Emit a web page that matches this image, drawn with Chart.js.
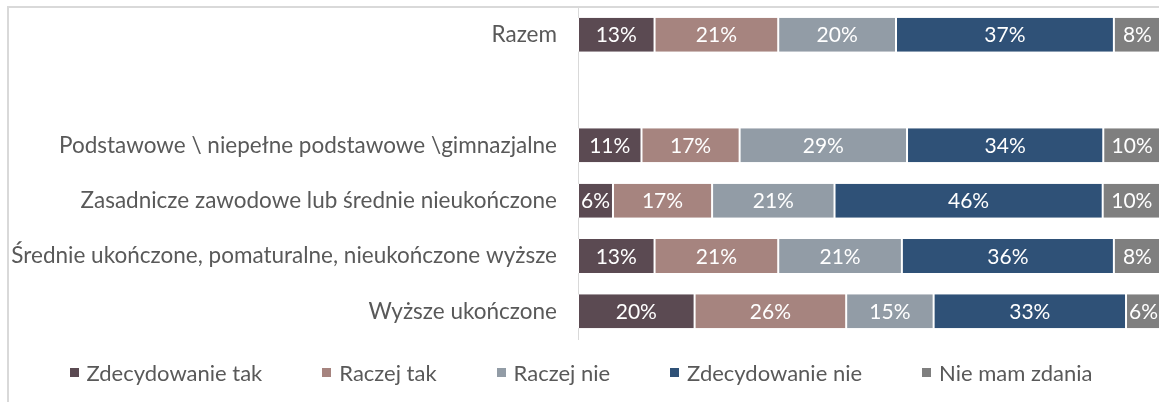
<!DOCTYPE html>
<html>
<head>
<meta charset="utf-8">
<script src="https://cdn.jsdelivr.net/npm/chart.js@4/dist/chart.umd.min.js"></script>
<style>
  html, body { margin: 0; padding: 0; background: #fff; }
  #wrap { position: relative; width: 1159px; height: 402px; overflow: hidden; }
  #frame { position: absolute; left: 7px; top: 6px; width: 1300px; height: 600px;
           border-left: 2px solid #d9d9d9; border-top: 2px solid #d9d9d9; }
  #box { position: absolute; left: 0; top: 0; width: 1162px; height: 402px; }
  #legend { position: absolute; left: 0; top: 359px; width: 1162px; display: flex;
            justify-content: center; font: 22px Lato, sans-serif; color: #595959; }
  #legend span.item { display: flex; align-items: center; margin: 0 30px; white-space: nowrap; }
  #legend i { display: inline-block; width: 9px; height: 9px; margin-right: 8px; }
</style>
</head>
<body>
<div id="wrap">
  <div id="frame"></div>
  <div id="box"><canvas id="chart"></canvas></div>
  <div id="legend"></div>
</div>
<script>
var categories = [
  'Razem',
  '',
  'Podstawowe \\ niepełne podstawowe \\gimnazjalne',
  'Zasadnicze zawodowe lub średnie nieukończone',
  'Średnie ukończone, pomaturalne, nieukończone wyższe',
  'Wyższe ukończone'
];
var seriesNames = ['Zdecydowanie tak', 'Raczej tak', 'Raczej nie', 'Zdecydowanie nie', 'Nie mam zdania'];
var zdecydowanieTak = [13, null, 11, 6, 13, 20];
var raczejTak = [21, null, 17, 17, 21, 26];
var raczejNie = [20, null, 29, 21, 21, 15];
var zdecydowanieNie = [37, null, 34, 46, 36, 33];
var nieMamZdania = [8, null, 10, 10, 8, 6];
var colors = ['#5b4a52', '#a6847f', '#929ca6', '#2f5177', '#7f7f7f'];

var series = [zdecydowanieTak, raczejTak, raczejNie, zdecydowanieNie, nieMamZdania];

// 100% stacked: each row scaled to its own total
var totals = categories.map(function (c, i) {
  return series.reduce(function (s, arr) { return s + (arr[i] || 0); }, 0);
});

var datasets = series.map(function (arr, k) {
  return {
    label: seriesNames[k],
    raw: arr,
    data: arr.map(function (v, i) { return v == null ? null : v / totals[i] * 100; }),
    backgroundColor: colors[k],
    borderColor: '#ffffff',
    borderWidth: { left: 1, right: 1, top: 0, bottom: 0 },
    borderSkipped: false,
    categoryPercentage: 1,
    barPercentage: 0.615
  };
});

var barLabels = {
  id: 'barLabels',
  afterDatasetsDraw: function (chart) {
    var ctx = chart.ctx;
    ctx.save();
    ctx.font = '21px Lato, sans-serif';
    ctx.fillStyle = '#ffffff';
    ctx.textAlign = 'center';
    ctx.textBaseline = 'middle';
    chart.data.datasets.forEach(function (ds, k) {
      chart.getDatasetMeta(k).data.forEach(function (el, i) {
        var v = ds.raw[i];
        if (v == null) return;
        var p = el.getCenterPoint();
        ctx.fillText(v + '%', p.x, p.y + 1);
      });
    });
    ctx.restore();
  }
};

new Chart(document.getElementById('chart'), {
  type: 'bar',
  data: { labels: categories, datasets: datasets },
  plugins: [barLabels],
  options: {
    indexAxis: 'y',
    responsive: true,
    maintainAspectRatio: false,
    animation: false,
    layout: { padding: { top: 7, bottom: 63, left: 0, right: 1 } },
    scales: {
      x: { stacked: true, min: 0, max: 100, display: false },
      y: {
        stacked: true,
        grid: { display: false, drawTicks: false },
        border: { display: true, color: '#d9d9d9', width: 1 },
        ticks: { color: '#595959', font: { family: 'Lato', size: 22.5 }, padding: 21, autoSkip: false },
        afterFit: function (scale) {
          scale.width = 578;
          scale.paddingTop = 0;
          scale.paddingBottom = 0;
        }
      }
    },
    plugins: {
      legend: { display: false },
      tooltip: { enabled: false }
    }
  }
});

var legend = document.getElementById('legend');
seriesNames.forEach(function (name, k) {
  var item = document.createElement('span');
  item.className = 'item';
  var sw = document.createElement('i');
  sw.style.background = colors[k];
  item.appendChild(sw);
  item.appendChild(document.createTextNode(name));
  legend.appendChild(item);
});
</script>
</body>
</html>
